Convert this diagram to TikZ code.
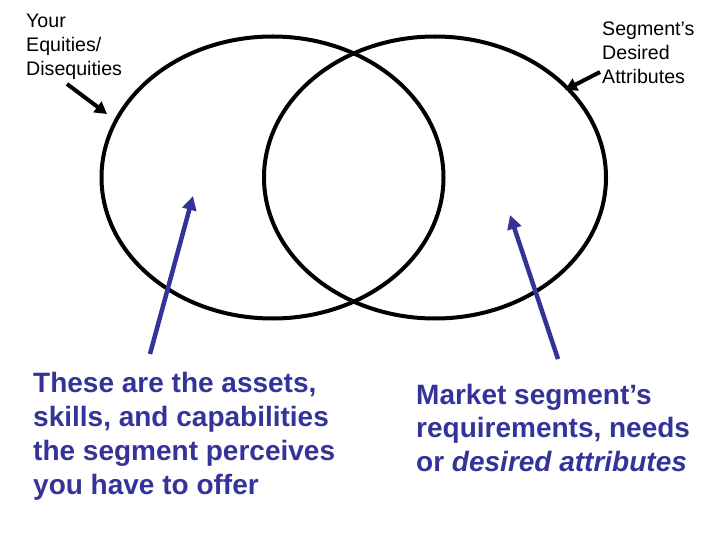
\documentclass[tikz,border=0pt]{standalone}
\usepackage{fontspec}
\setmainfont{Liberation Sans}
\usetikzlibrary{arrows.meta,shapes.geometric}
\definecolor{navy}{RGB}{51,51,153}
\tikzset{
  ring/.style={draw=black, line width=4pt, ellipse, minimum width=342pt, minimum height=282pt, inner sep=0pt},
  smalltext/.style={anchor=base west, align=left, inner sep=0pt, font=\fontsize{19.6pt}{24pt}\selectfont},
  bigtext/.style={anchor=base west, align=left, inner sep=0pt, text=navy, font=\fontsize{28pt}{33.7pt}\selectfont\bfseries},
  blackarrow/.style={line width=4pt, -{Triangle[length=12pt,width=13pt]}},
  bluearrow/.style={draw=navy, line width=4.5pt, -{Triangle[length=14pt,width=14pt]}}
}
\begin{document}
\begin{tikzpicture}[x=1pt,y=-1pt]
\useasboundingbox (0,0) rectangle (720,540);
\node[ring] (L) at (272.5,177.5) {};
\node[ring] (R) at (435,177.5) {};
\node[smalltext] (yt) at (26,75.5) {Your\\Equities/\\Disequities};
\node[smalltext] (st) at (602,84) {Segment’s\\Desired\\Attributes};
\node[bigtext] (lt) at (33,494) {These are the assets,\\skills, and capabilities\\the segment perceives\\you have to offer};
\node[bigtext] (rt) at (416,471.5) {Market segment’s\\requirements, needs\\or \textit{desired attributes}};
\coordinate (a1s) at (67,84);
\coordinate (a1e) at (107,114);
\coordinate (a2s) at (600,72);
\coordinate (a2e) at (565,90);
\coordinate (b1s) at (150,354);
\coordinate (b1e) at (193,196);
\coordinate (b2s) at (558,359);
\coordinate (b2e) at (510,215);
\draw[blackarrow] (a1s) -- (a1e);
\draw[blackarrow] (a2s) -- (a2e);
\draw[bluearrow] (b1s) -- (b1e);
\draw[bluearrow] (b2s) -- (b2e);
\end{tikzpicture}
\end{document}
